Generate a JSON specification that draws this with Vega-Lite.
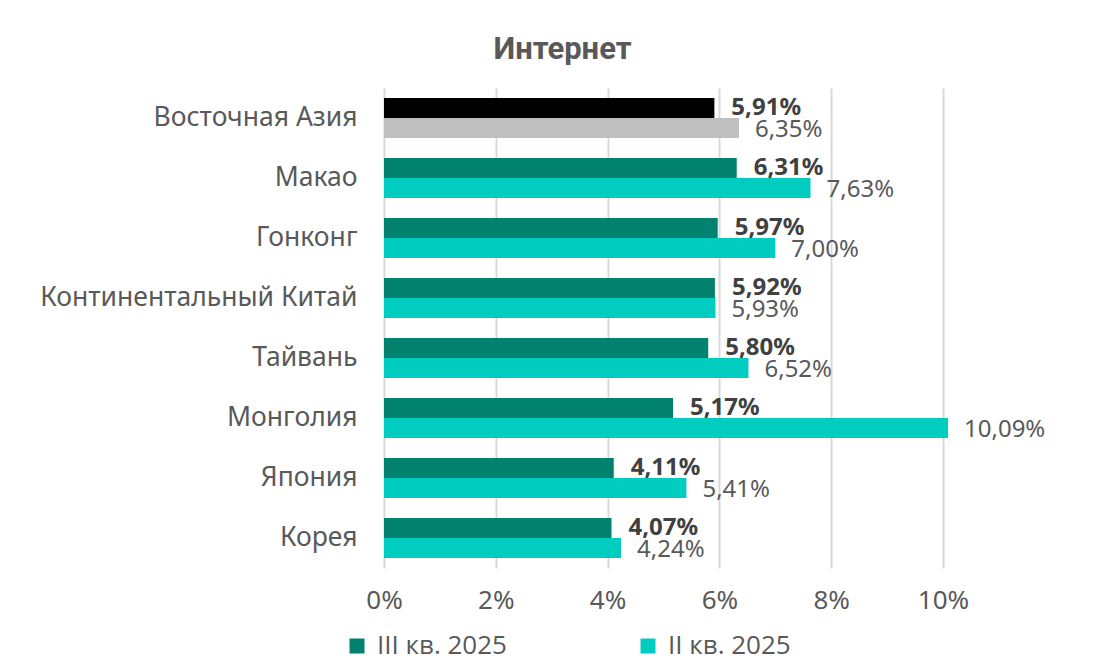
{
  "$schema": "https://vega.github.io/schema/vega-lite/v6.json",
  "width": 559,
  "height": 480,
  "autosize": {"type": "none"},
  "padding": {"left": 384, "top": 88, "right": 177, "bottom": 96},
  "background": "white",
  "title": {
    "text": "Интернет",
    "anchor": "middle",
    "frame": "group",
    "dx": -101,
    "offset": 22,
    "fontSize": 31,
    "fontWeight": "bold",
    "color": "#595959",
    "font": "Roboto"
  },
  "data": {
    "values": [
      {"region": "Восточная Азия", "q": "III кв. 2025", "v": 0.0591},
      {"region": "Восточная Азия", "q": "II кв. 2025", "v": 0.0635},
      {"region": "Макао", "q": "III кв. 2025", "v": 0.0631},
      {"region": "Макао", "q": "II кв. 2025", "v": 0.0763},
      {"region": "Гонконг", "q": "III кв. 2025", "v": 0.0597},
      {"region": "Гонконг", "q": "II кв. 2025", "v": 0.0700},
      {"region": "Континентальный Китай", "q": "III кв. 2025", "v": 0.0592},
      {"region": "Континентальный Китай", "q": "II кв. 2025", "v": 0.0593},
      {"region": "Тайвань", "q": "III кв. 2025", "v": 0.0580},
      {"region": "Тайвань", "q": "II кв. 2025", "v": 0.0652},
      {"region": "Монголия", "q": "III кв. 2025", "v": 0.0517},
      {"region": "Монголия", "q": "II кв. 2025", "v": 0.1009},
      {"region": "Япония", "q": "III кв. 2025", "v": 0.0411},
      {"region": "Япония", "q": "II кв. 2025", "v": 0.0541},
      {"region": "Корея", "q": "III кв. 2025", "v": 0.0407},
      {"region": "Корея", "q": "II кв. 2025", "v": 0.0424}
    ]
  },
  "encoding": {
    "y": {
      "field": "region",
      "type": "nominal",
      "sort": null,
      "scale": {"paddingInner": 0.3333, "paddingOuter": 0.1667},
      "axis": {
        "title": null,
        "domain": false,
        "ticks": false,
        "labelFontSize": 26.5,
        "labelColor": "#595959",
        "labelPadding": 27,
        "labelLimit": 400
      }
    },
    "yOffset": {
      "field": "q",
      "type": "nominal",
      "scale": {"domain": ["III кв. 2025", "II кв. 2025"], "paddingInner": 0, "paddingOuter": 0}
    },
    "x": {
      "field": "v",
      "type": "quantitative",
      "scale": {"domain": [0, 0.1], "nice": false},
      "axis": {
        "title": null,
        "format": ".0%",
        "values": [0, 0.02, 0.04, 0.06, 0.08, 0.1],
        "domain": false,
        "ticks": false,
        "grid": true,
        "gridColor": "#D9D9D9",
        "gridWidth": 2,
        "labelFlush": false,
        "labelFontSize": 26,
        "labelColor": "#595959",
        "labelPadding": 19
      }
    }
  },
  "layer": [
    {
      "mark": {"type": "bar"},
      "encoding": {
        "color": {
          "field": "q",
          "type": "nominal",
          "scale": {"domain": ["III кв. 2025", "II кв. 2025"], "range": ["#00826E", "#00CCBF"]},
          "condition": [
            {"test": "datum.region === 'Восточная Азия' && datum.q === 'III кв. 2025'", "value": "#000000"},
            {"test": "datum.region === 'Восточная Азия' && datum.q === 'II кв. 2025'", "value": "#BFBFBF"}
          ],
          "legend": {
            "title": null,
            "orient": "none",
            "direction": "horizontal",
            "legendX": -40,
            "legendY": 545,
            "symbolType": "square",
            "symbolSize": 225,
            "symbolStrokeWidth": 0,
            "labelFontSize": 26,
            "labelFont": "Open Sans",
            "labelColor": "#595959",
            "labelOffset": 7,
            "columnPadding": 128
          }
        }
      }
    },
    {
      "transform": [{"filter": "datum.q === 'III кв. 2025'"}],
      "mark": {"type": "text", "align": "left", "baseline": "middle", "dx": 17, "dy": 0, "fontSize": 24, "fontWeight": "bold", "color": "#404040"},
      "encoding": {"text": {"field": "v", "type": "quantitative", "format": ".2%"}}
    },
    {
      "transform": [{"filter": "datum.q === 'II кв. 2025'"}],
      "mark": {"type": "text", "align": "left", "baseline": "middle", "dx": 16, "dy": 2, "fontSize": 24, "color": "#595959"},
      "encoding": {"text": {"field": "v", "type": "quantitative", "format": ".2%"}}
    }
  ],
  "config": {
    "font": "Noto Sans",
    "view": {"stroke": null},
    "locale": {"number": {"decimal": ",", "thousands": " ", "grouping": [3], "currency": ["", " ₽"]}}
  }
}
